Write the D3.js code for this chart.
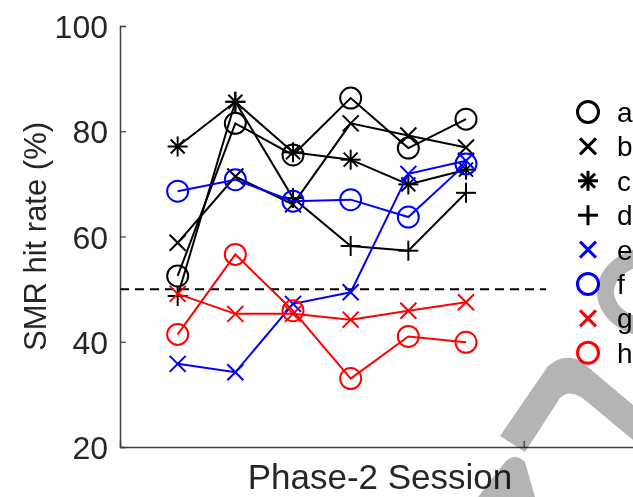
<!DOCTYPE html>
<html>
<head>
<meta charset="utf-8">
<script src="https://cdn.jsdelivr.net/npm/d3@7"></script>
<style>
  body { margin: 0; background: #fff; }
  svg { display: block; font-family: "Liberation Sans", Arial, sans-serif; }
</style>
</head>
<body>
<div id="chart"></div>
<script>
// Session numbers on the x axis (tick labels are hidden in the original)
const sessions = [1, 2, 3, 4, 5, 6];
const seriesNames = ['a', 'b', 'c', 'd', 'e', 'f', 'g', 'h'];

// SMR hit rate (%) per session
const seriesA = [52.5, 81.5, 75.5, 86.3, 76.8, 82.3];
const seriesB = [58.8, 71.4, 66.1, 81.5, 79.2, 76.9];
const seriesC = [77.1, 85.6, 76.0, 74.6, 69.9, 72.7];
const seriesD = [48.7, 85.6, 67.3, 58.2, 57.3, 68.3];
const seriesE = [35.8, 34.2, 47.2, 49.4, 71.9, 74.4];
const seriesF = [68.6, 70.8, 66.7, 67.0, 63.7, 73.8];
const seriesG = [49.1, 45.3, 45.3, 44.2, 45.9, 47.5];
const seriesH = [41.4, 56.6, 45.9, 33.0, 41.0, 39.9];

const yTicks = [20, 40, 60, 80, 100];
const xTicks = [7];
const chanceLevel = 50;

const width = 633;
const height = 497;

// marker + colour for each series, same order as seriesNames
let series = [
  {name: 'a', values: seriesA, marker: 'o', color: '#000000'},
  {name: 'b', values: seriesB, marker: 'x', color: '#000000'},
  {name: 'c', values: seriesC, marker: '*', color: '#000000'},
  {name: 'd', values: seriesD, marker: '+', color: '#000000'},
  {name: 'e', values: seriesE, marker: 'x', color: '#0000ff'},
  {name: 'f', values: seriesF, marker: 'o', color: '#0000ff'},
  {name: 'g', values: seriesG, marker: 'x', color: '#ff0000'},
  {name: 'h', values: seriesH, marker: 'o', color: '#ff0000'}
];

let x = d3.scaleLinear().domain([0, 9]).range([120, 639]);
let y = d3.scaleLinear().domain([20, 100]).range([447, 26]);

let svg = d3.select('#chart')
  .append('svg')
  .attr('width', width)
  .attr('height', height);

// Draws one marker symbol centred on 0,0 inside group g
function drawMarker(g, marker, color, sw) {
  if (marker === 'o') {
    g.append('circle')
      .attr('r', 10.5)
      .attr('fill', 'none')
      .attr('stroke', color)
      .attr('stroke-width', sw);
    return;
  }
  let segs = [];
  if (marker === 'x') {
    segs = [[-8, -8, 8, 8], [-8, 8, 8, -8]];
  } else if (marker === '+') {
    segs = [[-10, 0, 10, 0], [0, -10, 0, 10]];
  } else if (marker === '*') {
    segs = [[-10, 0, 10, 0], [0, -10, 0, 10], [-7, -7, 7, 7], [-7, 7, 7, -7]];
  }
  segs.forEach(function(s) {
    g.append('line')
      .attr('x1', s[0]).attr('y1', s[1])
      .attr('x2', s[2]).attr('y2', s[3])
      .attr('stroke', color)
      .attr('stroke-width', sw);
  });
}

// Axes
let yAxis = d3.axisLeft(y).tickValues(yTicks).tickSize(-6).tickPadding(12);
let yAxisG = svg.append('g')
  .attr('transform', 'translate(' + x(0) + ',0)')
  .call(yAxis);

let xAxis = d3.axisBottom(x).tickValues(xTicks).tickSize(-6).tickFormat('');
let xAxisG = svg.append('g')
  .attr('transform', 'translate(0,' + y(20) + ')')
  .call(xAxis);

[yAxisG, xAxisG].forEach(function(g) {
  g.select('.domain').attr('stroke', '#404040').attr('stroke-width', 1.5);
  g.selectAll('.tick line').attr('stroke', '#404040').attr('stroke-width', 1.2);
  g.selectAll('.tick text')
    .attr('fill', '#262626')
    .style('font-size', '32px')
    .style('font-family', '"Liberation Sans", Arial, sans-serif');
});
yAxisG.selectAll('.tick text').attr('dy', '0.36em');

// Axis titles
svg.append('text')
  .attr('transform', 'translate(46,' + y(60) + ') rotate(-90)')
  .attr('text-anchor', 'middle')
  .attr('fill', '#262626')
  .style('font-size', '31px')
  .text('SMR hit rate (%)');

svg.append('text')
  .attr('x', 380)
  .attr('y', 489)
  .attr('text-anchor', 'middle')
  .attr('fill', '#262626')
  .style('font-size', '35px')
  .text('Phase-2 Session');

// Chance level
svg.append('line')
  .attr('x1', x(0))
  .attr('x2', x(9))
  .attr('y1', y(chanceLevel))
  .attr('y2', y(chanceLevel))
  .attr('stroke', '#000')
  .attr('stroke-width', 2)
  .attr('stroke-dasharray', '9,6');

// Lines and markers
let line = d3.line()
  .x(function(d, i) { return x(sessions[i]); })
  .y(function(d) { return y(d); });

series.forEach(function(s) {
  let g = svg.append('g').attr('class', 'series-' + s.name);
  g.append('path')
    .datum(s.values)
    .attr('d', line)
    .attr('fill', 'none')
    .attr('stroke', s.color)
    .attr('stroke-width', 2);
  s.values.forEach(function(v, i) {
    let m = g.append('g')
      .attr('transform', 'translate(' + x(sessions[i]) + ',' + y(v) + ')');
    drawMarker(m, s.marker, s.color, 2);
  });
});

// Legend (white box covers the dashed line on the right)
let legendTop = 112;
let legendStep = 34.4;
let legend = svg.append('g').attr('class', 'legend');
legend.append('rect')
  .attr('x', 546)
  .attr('y', legendTop - 24)
  .attr('width', width - 546)
  .attr('height', legendStep * seriesNames.length + 14)
  .attr('fill', '#fff');

series.forEach(function(s, i) {
  let row = legend.append('g')
    .attr('transform', 'translate(588,' + (legendTop + i * legendStep) + ')');
  drawMarker(row, s.marker, s.color, 3);
  row.append('text')
    .attr('x', 29)
    .attr('dy', '0.36em')
    .attr('fill', '#000')
    .style('font-size', '28px')
    .text(s.name);
});

// Grey watermark pieces showing in the lower right of the original
let watermark = svg.append('g')
  .style('mix-blend-mode', 'multiply')
  .attr('fill', '#b4b4b4')
  .attr('fill-rule', 'evenodd');
watermark.append('path')
  .attr('d', 'M652,247 a55,45 0 1,0 0.1,0 Z M652,265 a38,27 0 1,0 0.1,0 Z');
watermark.append('path')
  .attr('d', 'M500,436 L548,366 Q565,352 582,362 L633,405 L633,440 L585,400 Q570,388 560,398 L525,452 Z');
watermark.append('path')
  .attr('d', 'M478,497 L505,462 Q515,452 525,462 L535,497 Z');
</script>
</body>
</html>
